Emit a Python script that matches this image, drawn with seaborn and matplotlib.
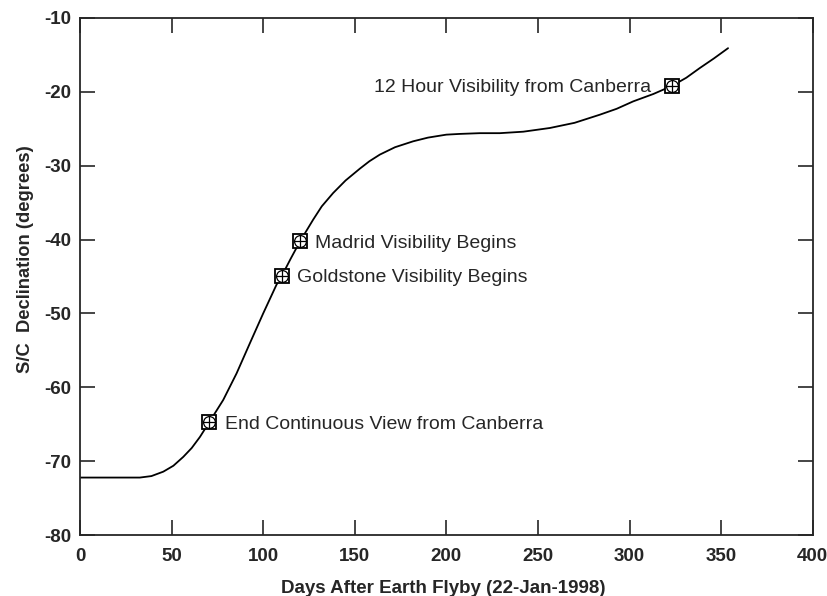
import pandas as pd
import matplotlib
matplotlib.use("Agg")
import matplotlib.pyplot as plt
import seaborn as sns

# Curva de declinacion
dias = [0, 32.7, 39, 45.5, 51, 56.4, 61, 65.5, 70.6, 78.2, 85.5, 92.8, 100,
        107.3, 110.2, 115, 120, 127.3, 132, 138.2, 145, 152.8, 158, 163.7,
        172, 181.9, 190, 200, 207.4, 218.3, 229.2, 242, 256.5, 270, 283.8,
        293, 302, 313, 323.2, 331, 338.3, 346, 353.8]
declinacion = [-72.2, -72.2, -72.0, -71.4, -70.6, -69.4, -68.2, -66.7, -64.7,
               -61.7, -58.1, -54.0, -50.0, -46.1, -44.9, -42.6, -40.3, -37.3,
               -35.5, -33.7, -32.0, -30.4, -29.4, -28.5, -27.5, -26.7, -26.2,
               -25.8, -25.7, -25.6, -25.6, -25.4, -24.9, -24.2, -23.1, -22.3,
               -21.3, -20.3, -19.2, -18.1, -16.8, -15.5, -14.1]

# Eventos marcados
evento_dias = [70.6, 110.2, 120, 323.2]
evento_decl = [-64.7, -44.9, -40.2, -19.2]
evento_texto = ["End Continuous View from Canberra", "Goldstone Visibility Begins",
                "Madrid Visibility Begins", "12 Hour Visibility from Canberra"]

sns.set_style("ticks")
plt.rcParams["font.family"] = ["Liberation Sans", "DejaVu Sans"]
plt.rcParams["axes.unicode_minus"] = False

df = pd.DataFrame({"dias": dias, "decl": declinacion})

fig = plt.figure(figsize=(8.27, 5.96), dpi=100)
ax = fig.add_axes([0.0967, 0.102, 0.886, 0.868])

sns.lineplot(data=df, x="dias", y="decl", color="black", linewidth=1.3, ax=ax)

for d, v in zip(evento_dias, evento_decl):
    ax.plot(d, v, marker="s", markersize=10.5, markerfacecolor="white",
            markeredgecolor="black", markeredgewidth=1.3, zorder=3)
    ax.plot(d, v, marker="o", markersize=8.5, markerfacecolor="none",
            markeredgecolor="black", markeredgewidth=0.9, zorder=4)
    ax.plot(d, v, marker="+", markersize=8.5, color="black",
            markeredgewidth=0.9, zorder=4)

for d, v, t in zip(evento_dias, evento_decl, evento_texto):
    if d > 300:
        ax.annotate(t, (d, v), xytext=(-15, 0), textcoords="offset points",
                    ha="right", va="center_baseline", fontsize=14)
    else:
        ax.annotate(t, (d, v), xytext=(11, 0), textcoords="offset points",
                    ha="left", va="center_baseline", fontsize=14)

ax.set_xlim(0, 400)
ax.set_ylim(-80, -10)
ax.set_xticks(range(0, 401, 50))
ax.set_yticks(range(-80, -9, 10))
ax.tick_params(direction="in", length=11, width=1.2, top=True, right=True,
               labelsize=13.5)
ax.tick_params(axis="x", pad=9)
ax.tick_params(axis="y", pad=6)
for lab in ax.get_xticklabels() + ax.get_yticklabels():
    lab.set_fontweight("bold")
for s in ax.spines.values():
    s.set_linewidth(1.3)

ax.set_xlabel("Days After Earth Flyby (22-Jan-1998)", fontsize=13.5,
              fontweight="bold", va="center")
ax.set_ylabel("S/C  Declination (degrees)", fontsize=13.2, fontweight="bold",
              va="center")
ax.xaxis.set_label_coords(0.496, -0.1025)
ax.yaxis.set_label_coords(-0.074, 0.534)

fig.savefig("out.png", dpi=100)
